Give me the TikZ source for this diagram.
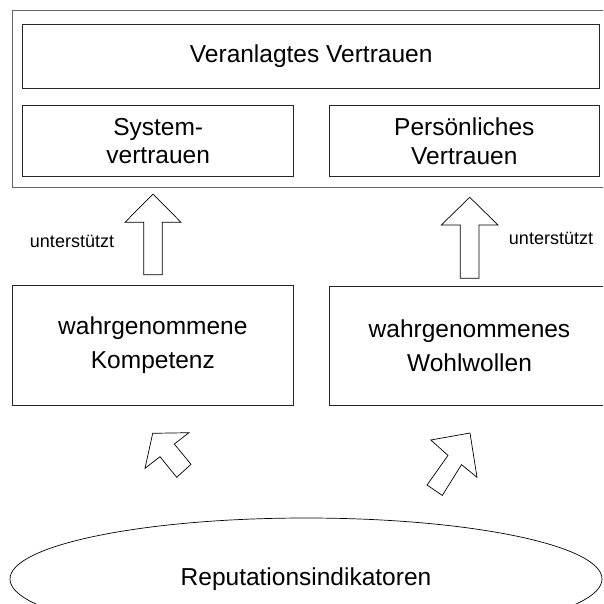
\documentclass[tikz,border=0pt]{standalone}
\usepackage{fontspec}
\setmainfont{Liberation Sans}
\usetikzlibrary{shapes.geometric}

\begin{document}
\begin{tikzpicture}[x=1pt, y=-1pt,
  box/.style={draw=black!85, line width=0.8pt, inner sep=0pt, align=center,
              font=\fontsize{24.5}{28.5}\selectfont},
  tallbox/.style={box, font=\fontsize{24.5}{34}\selectfont},
  frame/.style={draw=black!60, line width=1pt, inner sep=0pt},
  blockarrow/.style={draw=black, line width=0.7pt, fill=white, line join=miter},
  note/.style={font=\fontsize{18}{21}\selectfont, inner sep=0pt},
  cloud/.style={ellipse, draw=black, line width=0.7pt, inner sep=0pt,
                font=\fontsize{24.5}{28.5}\selectfont}]
\useasboundingbox (0,0) rectangle (603,604);
\clip (0,0) rectangle (603,604);

% top group: frame holding the three trust kinds
\node[frame, minimum width=598pt, minimum height=176.3pt] (group) at (311,99.15) {};
\node[box, minimum width=577pt, minimum height=63.6pt] (dispo) at (311.2,56.5) {Veranlagtes Vertrauen};
\node[box, minimum width=271pt, minimum height=70.6pt] (system) at (158.2,141) {System-\\vertrauen};
\node[box, minimum width=270.7pt, minimum height=70.6pt] (person) at (464.35,141) {Persönliches\\Vertrauen};

% perceived qualities
\node[tallbox, minimum width=281.7pt, minimum height=119.3pt] (komp) at (152.85,345.35) {wahrgenommene\\Kompetenz};
\node[tallbox, minimum width=281pt, minimum height=119pt] (wohl) at (469.5,345.5) {wahrgenommenes\\Wohlwollen};

% source of the indicators
\node[cloud, minimum width=592pt, minimum height=122pt] (rep) at (306,579) {Reputationsindikatoren};

% upward block arrows
\draw[blockarrow] (143.7,274.7) -- (143.7,222.3) -- (125,222.3) -- (153,194)
  -- (181,222.3) -- (162.3,222.3) -- (162.3,274.7) -- cycle;
\draw[blockarrow] (460.3,278.3) -- (460.3,225) -- (441.3,225) -- (469.7,197.3)
  -- (498,225) -- (479,225) -- (479,278.3) -- cycle;
\node[note] (sup1) at (72,241) {unterstützt};
\node[note] (sup2) at (551,238) {unterstützt};

% diagonal block arrows from the indicators
\draw[blockarrow] (152.7,433.3) -- (189,432.7) -- (174.3,444) -- (191,464.3)
  -- (176.7,477.3) -- (160,456.7) -- (145,468.3) -- cycle;
\draw[blockarrow] (470,433) -- (430.8,440) -- (448,455.4) -- (427,485)
  -- (442.3,495.4) -- (461.5,464.6) -- (477,477.3) -- cycle;
\end{tikzpicture}
\end{document}
